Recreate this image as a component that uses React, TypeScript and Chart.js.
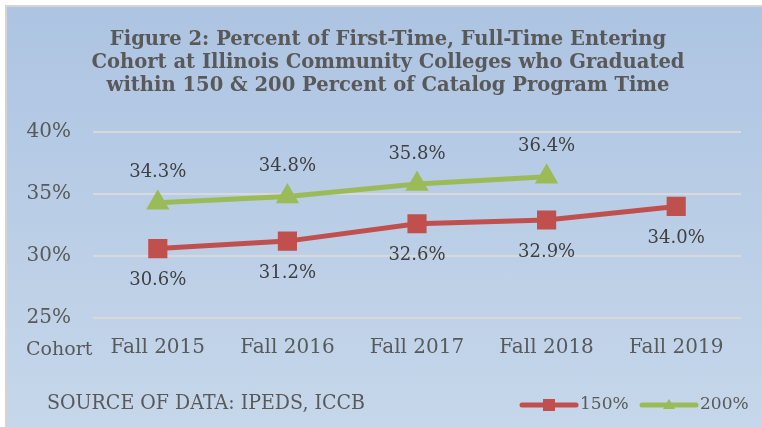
import React, { useEffect, useRef } from "react";
import { Chart, registerables } from "chart.js";

Chart.register(...registerables);

const categories = ["Fall 2015", "Fall 2016", "Fall 2017", "Fall 2018", "Fall 2019"];
const series150 = [30.6, 31.2, 32.6, 32.9, 34.0];
const series200: (number | null)[] = [34.3, 34.8, 35.8, 36.4, null];
const yTicks = [25, 30, 35, 40];
const titleLines = [
  "Figure 2: Percent of First-Time, Full-Time Entering",
  "Cohort at Illinois Community Colleges who Graduated",
  "within 150 & 200 Percent of Catalog Program Time",
];
const seriesNames = ["150%", "200%"];
const sourceText = "SOURCE OF DATA: IPEDS, ICCB";
const axisTitle = "Cohort";

const RED = "#c0504d";
const GREEN = "#9bbb59";
const FONT = "'DejaVu Serif', Georgia, serif";

export default function App() {
  const ref = useRef<HTMLCanvasElement | null>(null);

  useEffect(() => {
    if (!ref.current) return;

    const labelsPlugin = {
      id: "valueLabels",
      afterDatasetsDraw(chart: any) {
        const ctx = chart.ctx;
        ctx.save();
        ctx.font = `18px ${FONT}`;
        ctx.fillStyle = "#404040";
        ctx.textAlign = "center";
        ctx.textBaseline = "middle";
        chart.data.datasets.forEach((ds: any, di: number) => {
          const meta = chart.getDatasetMeta(di);
          meta.data.forEach((pt: any, i: number) => {
            const v = ds.data[i];
            if (v === null || v === undefined) return;
            const dy = di === 0 ? 32 : -30;
            ctx.fillText(v.toFixed(1) + "%", pt.x, pt.y + dy);
          });
        });
        ctx.restore();
      },
    };

    const extrasPlugin = {
      id: "extras",
      afterDraw(chart: any) {
        const ctx = chart.ctx;
        ctx.save();
        // title (condensed to match width)
        ctx.font = `bold 21px ${FONT}`;
        ctx.fillStyle = "#595959";
        ctx.textAlign = "center";
        ctx.textBaseline = "middle";
        const w2 = ctx.measureText(titleLines[1]).width;
        const sx = 593 / w2;
        titleLines.forEach((t, i) => {
          ctx.save();
          ctx.translate(388, 40 + i * 23);
          ctx.scale(sx, 1);
          ctx.fillText(t, 0, 0);
          ctx.restore();
        });
        // Cohort
        ctx.font = `19px ${FONT}`;
        ctx.textAlign = "left";
        ctx.fillText(axisTitle, 26, 350);
        // source
        ctx.font = `20px ${FONT}`;
        const ws = ctx.measureText(sourceText).width;
        ctx.save();
        ctx.translate(47, 404);
        ctx.scale(318 / ws, 1);
        ctx.fillText(sourceText, 0, 0);
        ctx.restore();
        // legend
        const items = [
          { x: 520, color: RED, style: "rect", text: seriesNames[0] },
          { x: 640, color: GREEN, style: "triangle", text: seriesNames[1] },
        ];
        const ly = 405;
        items.forEach((it) => {
          ctx.strokeStyle = it.color;
          ctx.lineWidth = 5;
          ctx.lineCap = "round";
          ctx.beginPath();
          ctx.moveTo(it.x + 2, ly);
          ctx.lineTo(it.x + 56, ly);
          ctx.stroke();
          ctx.fillStyle = it.color;
          const cx = it.x + 29;
          if (it.style === "rect") {
            ctx.fillRect(cx - 6, ly - 6, 12, 12);
          } else {
            ctx.beginPath();
            ctx.moveTo(cx, ly - 6);
            ctx.lineTo(cx + 6, ly + 4);
            ctx.lineTo(cx - 6, ly + 4);
            ctx.closePath();
            ctx.fill();
          }
          ctx.fillStyle = "#595959";
          ctx.font = `17px ${FONT}`;
          ctx.textAlign = "left";
          ctx.fillText(it.text, it.x + 60, ly);
        });
        ctx.restore();
      },
    };

    const chart = new Chart(ref.current, {
      type: "line",
      data: {
        labels: categories,
        datasets: [
          {
            label: seriesNames[0],
            data: series150,
            borderColor: RED,
            backgroundColor: RED,
            borderWidth: 5,
            pointStyle: "rect",
            pointRadius: 10,
            pointHoverRadius: 10,
            tension: 0,
          },
          {
            label: seriesNames[1],
            data: series200,
            borderColor: GREEN,
            backgroundColor: GREEN,
            borderWidth: 5,
            pointStyle: "triangle",
            pointRadius: 8.5,
            pointHoverRadius: 8.5,
            tension: 0,
          },
        ],
      },
      options: {
        responsive: false,
        animation: false,
        layout: { padding: { top: 132, right: 21, bottom: 59, left: 0 } },
        plugins: {
          legend: { display: false },
          title: { display: false },
          tooltip: { enabled: false },
        },
        scales: {
          x: {
            offset: true,
            grid: { display: false, drawTicks: false },
            border: { display: false },
            ticks: {
              color: "#595959",
              font: { family: FONT, size: 20 },
              padding: 18,
              maxRotation: 0,
            },
            afterFit(scale: any) {
              scale.height = 50;
            },
          },
          y: {
            min: 25,
            max: 40,
            grid: { color: "#d9d9d9", lineWidth: 2, drawTicks: false },
            border: { display: false },
            ticks: {
              color: "#595959",
              font: { family: FONT, size: 20 },
              padding: 22,
              callback: (v: any) => v + "%",
            },
            afterBuildTicks(scale: any) {
              scale.ticks = yTicks.map((v) => ({ value: v }));
            },
            afterFit(scale: any) {
              scale.width = 93;
            },
          },
        },
      },
      plugins: [labelsPlugin, extrasPlugin],
    });
    return () => chart.destroy();
  }, []);

  return (
    <div style={{ position: "fixed", left: 0, top: 0, width: 762, height: 427, background: "#ffffff", overflow: "hidden" }}>
      <div
        style={{
          position: "absolute",
          left: 5,
          top: 5,
          right: 0,
          bottom: 0,
          borderTop: "2px solid #d4d4d4",
          borderLeft: "2px solid #d4d4d4",
          background: "linear-gradient(to bottom, #adc4e2 0%, #c6d7ea 100%)",
        }}
      />
      <canvas ref={ref} width={762} height={427} style={{ position: "absolute", left: 0, top: 0, width: 762, height: 427 }} />
    </div>
  );
}
